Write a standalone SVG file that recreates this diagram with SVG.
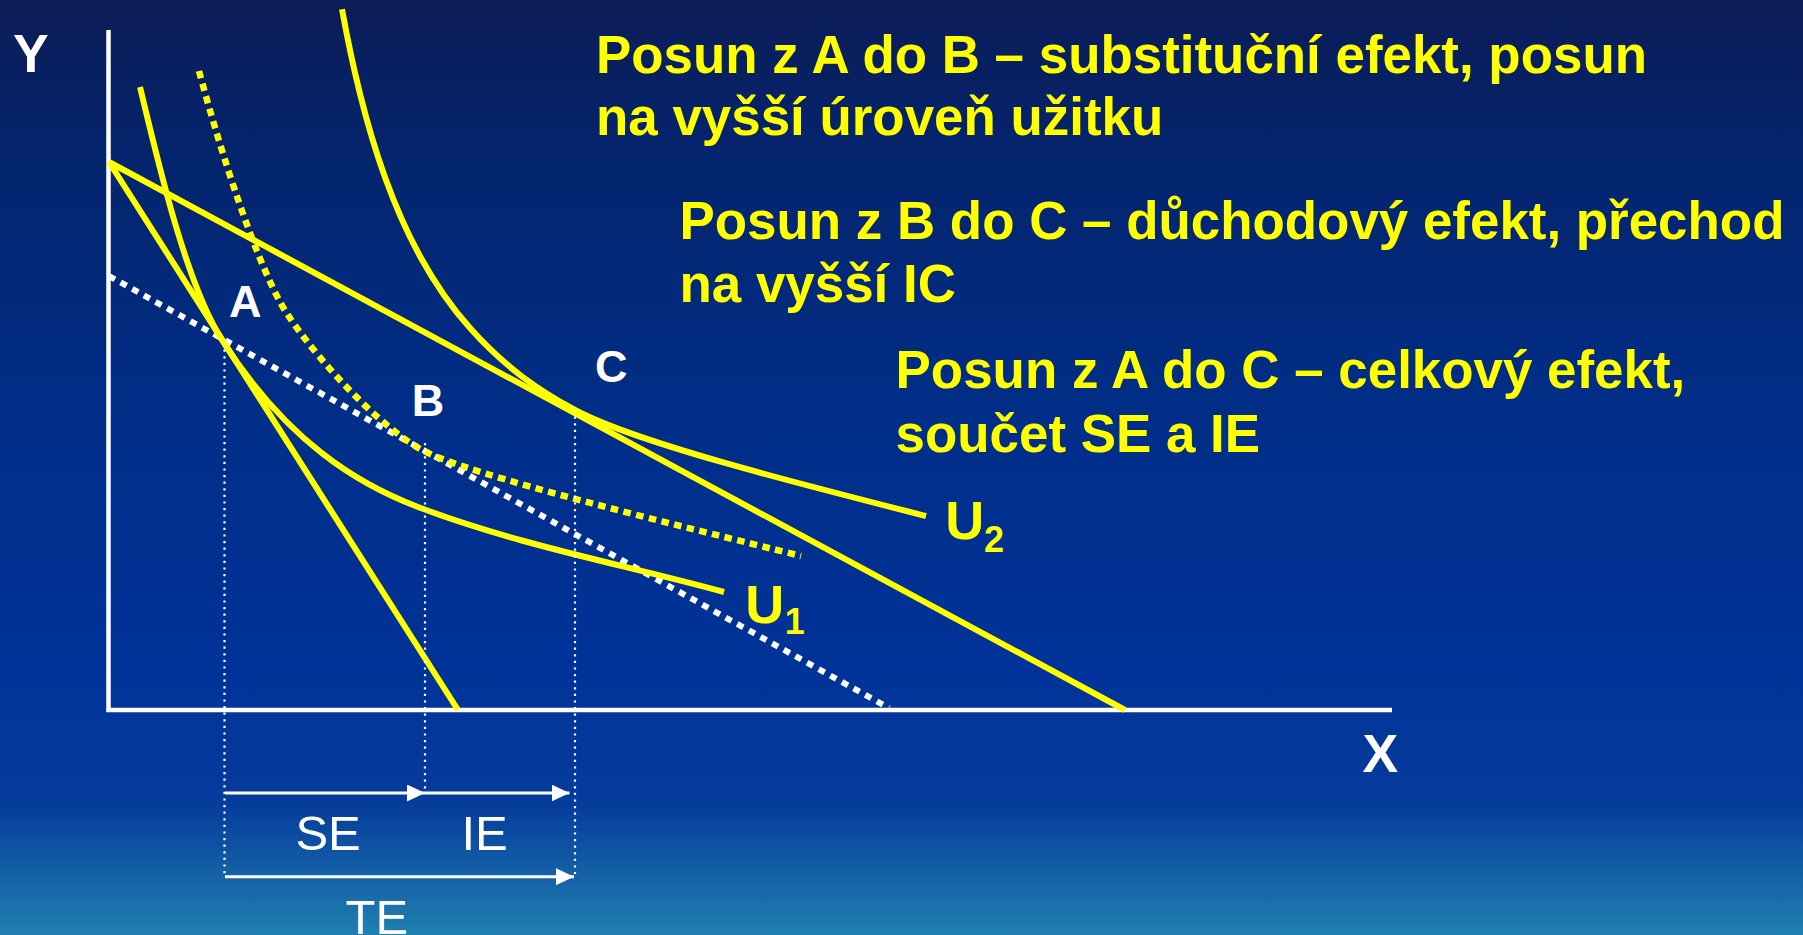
<svg xmlns="http://www.w3.org/2000/svg" width="1803" height="935" viewBox="0 0 1803 935">
<defs>
<linearGradient id="bg" x1="0" y1="0" x2="0" y2="1">
<stop offset="0" stop-color="#0b1c56"/>
<stop offset="0.15" stop-color="#05246c"/>
<stop offset="0.45" stop-color="#002e88"/>
<stop offset="0.72" stop-color="#003399"/>
<stop offset="0.86" stop-color="#063c9c"/>
<stop offset="1" stop-color="#2080b0"/>
</linearGradient>
<marker id="ah" markerUnits="userSpaceOnUse" markerWidth="18" markerHeight="17" refX="18" refY="8.5" orient="auto">
<path d="M0,0 L18,8.5 L0,17 Z" fill="#ffffff"/>
</marker>
<style>
.t{font-family:"Liberation Sans",Arial,sans-serif;font-weight:bold;fill:#ffff00;font-size:52.9px}
.lbl{font-family:"Liberation Sans",Arial,sans-serif;font-weight:bold;fill:#ffffff;font-size:45px}
.ax{font-family:"Liberation Sans",Arial,sans-serif;font-weight:bold;fill:#ffffff;font-size:53.5px}
.u{font-family:"Liberation Sans",Arial,sans-serif;font-weight:bold;fill:#ffff00;font-size:54px}
.sub{font-family:"Liberation Sans",Arial,sans-serif;font-weight:bold;fill:#ffff00;font-size:36px}
.ef{font-family:"Liberation Sans",Arial,sans-serif;fill:#ffffff;font-size:49px}
.axis{stroke:#ffffff;stroke-width:4.5;fill:none}
.solid{stroke:#ffff00;stroke-width:6;fill:none}
.ydot{stroke:#ffff00;stroke-width:6.5;fill:none;stroke-dasharray:7.5 5.5}
.wdot{stroke:#ffffff;stroke-width:6;fill:none;stroke-dasharray:6.8 6.5}
.vdot{stroke:#ffffff;stroke-width:2.2;fill:none;stroke-dasharray:2.2 4.4}
.arr{stroke:#ffffff;stroke-width:3;fill:none;marker-end:url(#ah)}
</style>
</defs>
<rect x="0" y="0" width="1803" height="935" fill="url(#bg)"/>

<g id="axes">
<line class="axis" x1="108.5" y1="30" x2="108.5" y2="712"/>
<line class="axis" x1="106.5" y1="710" x2="1392" y2="710"/>
<text class="ax" x="13" y="71.7">Y</text>
<text class="ax" x="1362.5" y="771.7">X</text>
</g>

<g id="curves">
<path id="budget-original" class="solid" d="M109,162 L458,710"/>
<path id="budget-new" class="solid" d="M109,162 L1125,710"/>
<path id="budget-compensated" class="wdot" d="M109,276 L889,708"/>
<path id="U1" class="solid" d="M140,87 C160,171 187,285 222,340 C287,442 358,484.2 418,507 C518,545 624,564.6 724,592"/>
<path id="U-mid" class="ydot" d="M199,71 C224,163.5 254,252.5 279,300 C300,340 372,422.3 422,450 C467,474.9 681,526 801,556"/>
<path id="U2" class="solid" d="M342,9.2 C348,42.1 354,69.6 360,93.7 C368.33,127.2 376.67,154.1 385,177.3 C396.67,209.8 408.33,234.9 420,256.2 C436.67,286.65 453.33,309.3 470,328.1 C505,367.65 540,391.1 575,410 C635,442.3 796,483 926,516"/>
</g>

<g id="guides">
<line class="vdot" x1="224.5" y1="343" x2="224.5" y2="874"/>
<line class="vdot" x1="425" y1="443" x2="425" y2="793"/>
<line class="vdot" x1="575" y1="410" x2="575" y2="874"/>
</g>

<g id="connectors">
<line class="arr" x1="225" y1="793" x2="425" y2="793"/>
<line class="arr" x1="425" y1="793" x2="569.5" y2="793"/>
<line class="arr" x1="225" y1="876.7" x2="574" y2="876.7"/>
</g>

<g id="point-A"><text class="lbl" x="229" y="317">A</text></g>
<g id="point-B"><text class="lbl" x="411.7" y="416">B</text></g>
<g id="point-C"><text class="lbl" x="595" y="382">C</text></g>

<g id="label-U2"><text class="u" x="945.2" y="539.3">U</text><text class="sub" x="984" y="552.3">2</text></g>
<g id="label-U1"><text class="u" x="745.2" y="623.3">U</text><text class="sub" x="784.8" y="634.3">1</text></g>

<g id="label-SE"><text class="ef" x="295.4" y="850">SE</text></g>
<g id="label-IE"><text class="ef" x="461.4" y="850">IE</text></g>
<g id="label-TE"><text class="ef" x="345.6" y="934">TE</text></g>

<g id="note-SE">
<text class="t" x="596" y="73">Posun z A do B – substituční efekt, posun</text>
<text class="t" x="596" y="135">na vyšší úroveň užitku</text>
</g>
<g id="note-IE">
<text class="t" x="679.5" y="238.5">Posun z B do C – důchodový efekt, přechod</text>
<text class="t" x="679.5" y="301.7">na vyšší IC</text>
</g>
<g id="note-TE">
<text class="t" x="895.6" y="388.3">Posun z A do C – celkový efekt,</text>
<text class="t" x="895.6" y="451.7">součet SE a IE</text>
</g>
</svg>
